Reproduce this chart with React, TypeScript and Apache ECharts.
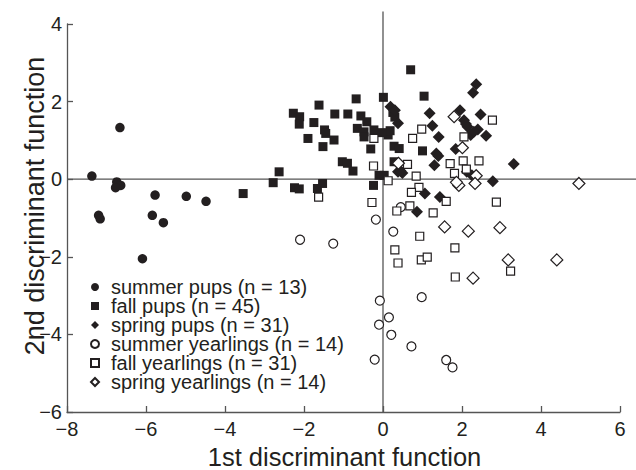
import React, { useEffect, useRef } from "react";
import * as echarts from "echarts";

type Pt = [number, number];

const summerPups: Pt[] = [
  [-7.37, 0.08], [-6.66, 1.33], [-7.2, -0.93], [-7.16, -1.02], [-6.74, -0.07],
  [-6.64, -0.16], [-6.77, -0.22], [-5.77, -0.41], [-4.98, -0.44], [-4.48, -0.57],
  [-5.84, -0.93], [-5.56, -1.12], [-6.09, -2.05],
];

const fallPups: Pt[] = [
  [-3.54, -0.37], [-2.63, 0.19], [-2.78, -0.09], [-2.24, -0.22], [-2.12, -0.25],
  [-1.53, -0.11], [-1.66, -0.24],
  [-2.27, 1.7], [-2.11, 1.61], [-2.12, 1.42], [-1.75, 1.46], [-1.62, 1.91],
  [-1.9, 1.05], [-1.48, 1.27], [-1.45, 1.18], [-1.24, 1.01], [-1.52, 0.84],
  [-1.22, 1.68], [-0.89, 1.68], [-0.68, 2.07], [-0.56, 1.63], [-0.41, 1.48],
  [-0.65, 1.31], [-0.48, 1.22], [-0.48, 1.09], [-0.23, 1.27], [-0.31, 0.78],
  [-1.03, 0.45], [-0.9, 0.41], [-0.76, 0.21], [-0.1, 0.1], [-0.24, -0.16],
  [0.7, 2.82], [0.01, 2.11], [1.04, 2.14], [0.25, 1.72], [0.3, 1.6],
  [0.13, 1.14], [0.28, 0.85], [0.41, 0.79], [0.28, 0.45], [1.0, 0.73],
  [0.03, 0.1], [0.18, 1.25], [-0.02, 1.2],
];

const springPups: Pt[] = [
  [2.36, 2.45], [2.28, 2.23], [1.18, 1.7], [1.95, 1.78], [2.47, 1.67],
  [0.38, 1.44], [1.25, 1.38], [2.05, 1.52], [2.14, 1.35], [2.22, 1.14],
  [2.4, 1.28], [2.61, 1.12], [1.41, 1.09], [1.84, 0.78], [1.35, 0.66],
  [1.3, 0.36], [3.31, 0.39], [0.38, 0.19], [0.49, 0.16], [2.12, 0.19],
  [2.25, 0.1], [2.78, -0.05], [1.06, -0.37], [1.44, -0.46], [0.86, -0.84],
  [0.19, 1.87], [2.3, 1.22], [2.1, 1.42], [0.44, 0.22], [0.3, 1.78],
  [1.4, 0.6],
];

const summerYearlings: Pt[] = [
  [-0.18, -1.04], [-2.1, -1.56], [-1.26, -1.66], [0.26, -1.35], [0.45, -0.72],
  [-0.08, -3.13], [0.98, -3.04], [0.15, -3.56], [-0.1, -3.75], [0.21, -4.01],
  [0.72, -4.31], [-0.21, -4.65], [1.6, -4.66], [1.76, -4.85],
];

const fallYearlings: Pt[] = [
  [2.77, 1.52], [0.98, 1.29], [2.05, 1.09], [0.75, 1.05], [-0.23, 1.05],
  [-0.24, 0.34], [0.62, 0.38], [1.7, 0.4], [2.03, 0.47], [2.43, 0.47],
  [2.11, 0.26], [1.81, 0.15], [0.84, 0.08], [0.13, -0.04], [0.91, -0.21],
  [0.72, -0.34], [1.6, -0.57], [2.87, -0.59], [-1.63, -0.46], [-0.28, -0.6],
  [0.68, -0.69], [0.35, -0.82], [1.27, -0.87], [0.93, -1.47], [1.82, -1.77],
  [0.3, -1.82], [0.38, -2.16], [0.97, -2.08], [1.12, -2.01], [1.83, -2.52],
  [3.23, -2.37],
];

const springYearlings: Pt[] = [
  [1.8, 1.61], [2.01, 0.81], [0.39, 0.41], [2.36, 0.09], [1.92, -0.16],
  [2.33, -0.11], [4.96, -0.11], [1.56, -1.23], [2.16, -1.34], [2.96, -1.25],
  [3.17, -2.08], [4.4, -2.08], [2.28, -2.55], [1.86, -0.08],
];

const seriesNames = [
  "summer pups (n = 13)",
  "fall pups (n = 45)",
  "spring pups (n = 31)",
  "summer yearlings (n = 14)",
  "fall yearlings (n = 31)",
  "spring yearlings (n = 14)",
];

const xTitle = "1st discriminant function";
const yTitle = "2nd discriminant function";

const INK = "#231f20";
const AXIS = "#555555";
const FONT = "'Liberation Sans', Arial, Helvetica, sans-serif";

export default function App() {
  const ref = useRef<HTMLDivElement>(null);

  useEffect(() => {
    if (!ref.current) return;
    const chart = echarts.init(ref.current, undefined, { renderer: "svg" });

    const filled = { color: INK, opacity: 1 };
    const open = { color: "#ffffff", borderColor: INK, borderWidth: 1.2, opacity: 1 };
    const minus = (v: number) => String(v).replace("-", "\u2212");

    const mk = (name: string, data: Pt[], symbol: string, size: number, style: any, z: number) => ({
      type: "scatter",
      name,
      data,
      symbol,
      symbolSize: size,
      itemStyle: style,
      z,
      emphasis: { disabled: true },
    });

    const option: any = {
      animation: false,
      grid: { left: 67, right: 16, top: 24, bottom: 58, containLabel: false },
      xAxis: {
        type: "value",
        min: -8,
        max: 6,
        interval: 2,
        axisLine: { show: true, onZero: false, lineStyle: { color: AXIS, width: 1.3 } },
        axisTick: { show: true, inside: true, length: 6, lineStyle: { color: AXIS, width: 1.3 } },
        axisLabel: { fontSize: 20, color: INK, fontFamily: FONT, margin: 7, formatter: minus },
        splitLine: { show: false },
      },
      yAxis: {
        type: "value",
        min: -6,
        max: 4,
        interval: 2,
        axisLine: { show: true, onZero: false, lineStyle: { color: AXIS, width: 1.3 } },
        axisTick: { show: true, inside: true, length: 6, lineStyle: { color: AXIS, width: 1.3 } },
        axisLabel: { fontSize: 20, color: INK, fontFamily: FONT, margin: 5, formatter: minus },
        splitLine: { show: false },
      },
      legend: {
        orient: "vertical",
        left: 90,
        top: 277,
        padding: 0,
        itemWidth: 8,
        itemHeight: 8,
        itemGap: -1,
        selectedMode: false,
        textStyle: { fontSize: 20, lineHeight: 19, color: INK, fontFamily: FONT, padding: [0, 0, 0, 7] },
        data: seriesNames,
      },
      series: [
        mk(seriesNames[0], summerPups, "circle", 9.5, filled, 3),
        mk(seriesNames[1], fallPups, "rect", 9, filled, 3),
        mk(seriesNames[2], springPups, "diamond", 12, filled, 3),
        mk(seriesNames[3], summerYearlings, "circle", 9, open, 4),
        mk(seriesNames[4], fallYearlings, "rect", 8, open, 4),
        mk(seriesNames[5], springYearlings, "diamond", 12, open, 4),
      ],
    };

    chart.setOption(option);

    const origin = chart.convertToPixel({ gridIndex: 0 }, [0, 0]) as number[];
    const topLeft = chart.convertToPixel({ gridIndex: 0 }, [-8, 4]) as number[];
    const botRight = chart.convertToPixel({ gridIndex: 0 }, [6, -6]) as number[];
    const W = chart.getWidth();
    const midX = (topLeft[0] + botRight[0]) / 2;

    chart.setOption({
      graphic: [
        {
          type: "line",
          z: 0,
          silent: true,
          shape: { x1: origin[0], y1: topLeft[1] - 12.5, x2: origin[0], y2: botRight[1] },
          style: { stroke: AXIS, lineWidth: 1.3 },
        },
        {
          type: "line",
          z: 0,
          silent: true,
          shape: { x1: topLeft[0], y1: origin[1], x2: W, y2: origin[1] },
          style: { stroke: AXIS, lineWidth: 1.3 },
        },
        {
          type: "text",
          x: midX + 1,
          y: 456.5,
          silent: true,
          style: {
            text: xTitle,
            fill: INK,
            font: `25.5px ${FONT}`,
            textAlign: "center",
            textVerticalAlign: "middle",
            align: "center",
            verticalAlign: "middle",
          },
        },
        {
          type: "text",
          x: 35,
          y: 206,
          rotation: Math.PI / 2,
          silent: true,
          style: {
            text: yTitle,
            fill: INK,
            font: `27px ${FONT}`,
            textAlign: "center",
            textVerticalAlign: "middle",
            align: "center",
            verticalAlign: "middle",
          },
        },
      ],
    });

    return () => chart.dispose();
  }, []);

  return <div ref={ref} style={{ width: 636, height: 470, position: "absolute", left: 0, top: 0 }} />;
}
